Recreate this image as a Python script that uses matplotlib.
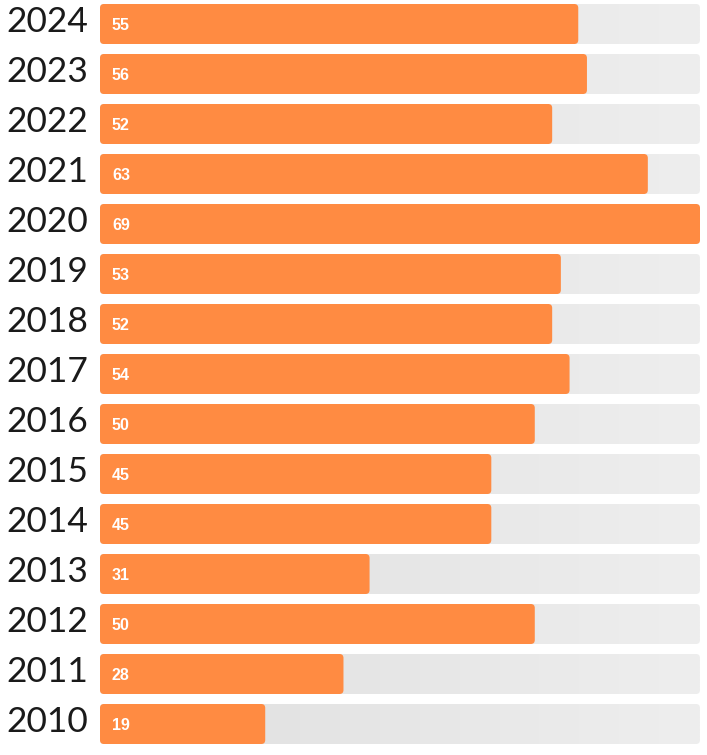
import matplotlib.pyplot as plt
import numpy as np
from matplotlib.patches import FancyBboxPatch
from matplotlib.colors import LinearSegmentedColormap

years = ['2024', '2023', '2022', '2021', '2020', '2019', '2018', '2017',
         '2016', '2015', '2014', '2013', '2012', '2011', '2010']
values = [55, 56, 52, 63, 69, 53, 52, 54, 50, 45, 45, 31, 50, 28, 19]

bar_color = '#ff8b42'
track_cmap = LinearSegmentedColormap.from_list('track', ['#dfdfdf', '#eeeeee'])

W, H = 707, 755
fig = plt.figure(figsize=(W / 100, H / 100), dpi=100)
# axes spans bar area: x from 100px to 700px, full height
ax = fig.add_axes([100 / W, 0, 600 / W, 1])
vmax = max(values)
top = -24 / 50
ax.axis('off')

xpp = vmax / 600  # x data units per pixel
ypp = 1 / 50      # y data units per pixel
r = 4 * xpp
asp = ypp / xpp
h = 0.8

grad = np.linspace(0, 1, 256).reshape(1, -1)

for i, (yr, v) in enumerate(zip(years, values)):
    track = FancyBboxPatch((0, i - h / 2), vmax, h,
                           boxstyle=f'round,pad=0,rounding_size={r}',
                           mutation_aspect=asp, facecolor='none',
                           edgecolor='none')
    ax.add_patch(track)
    im = ax.imshow(grad, cmap=track_cmap, extent=(0, vmax, i + h / 2, i - h / 2),
                   aspect='auto', interpolation='bilinear', zorder=1)
    im.set_clip_path(track)

    bar = FancyBboxPatch((0, i - h / 2), v, h,
                         boxstyle=f'round,pad=0,rounding_size={r}',
                         mutation_aspect=asp, facecolor=bar_color,
                         edgecolor='none', zorder=2)
    ax.add_patch(bar)

    ax.text(12 * xpp, i + 6 * ypp, str(v), color='white', fontsize=11.5,
            fontweight='bold', family='Liberation Sans', va='baseline',
            ha='left', zorder=3)
    ax.text(-12 * xpp, i + 8 * ypp, yr, color='#1a1a1a', fontsize=25.5,
            family='Lato', va='baseline', ha='right', clip_on=False)

ax.set_ylim(top + H / 50, top)
ax.set_xlim(0, vmax)

fig.savefig('out.png', dpi=100)
